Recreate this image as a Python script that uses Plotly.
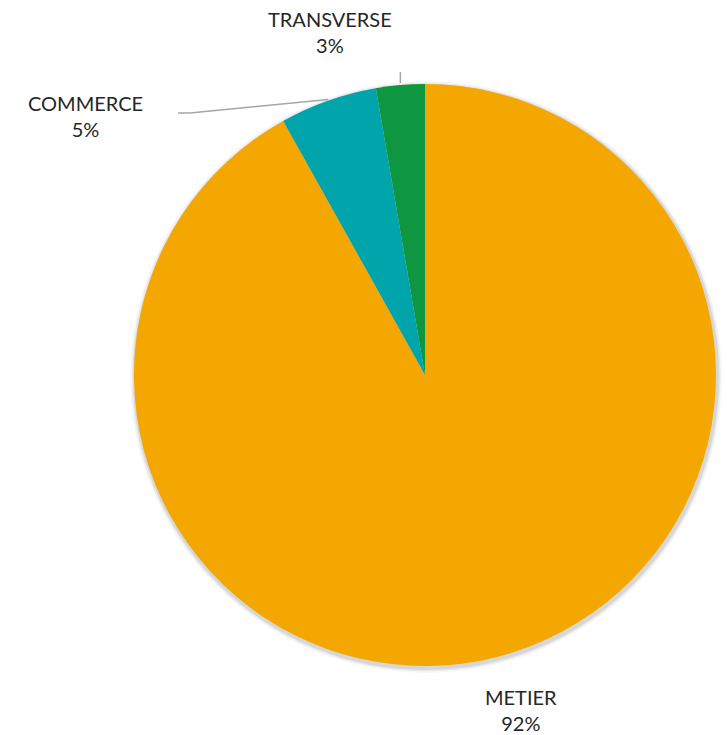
import math
import plotly.graph_objects as go

labels = ["METIER", "COMMERCE", "TRANSVERSE"]
values = [91.9, 5.4, 2.7]
colors = ["#F4A700", "#00A5AC", "#0E9640"]

W, H = 727, 735
cx, cy, r = 425, 375, 291  # pie centre / radius in px

def px_to_paper(x, y):
    return x / W, 1 - y / H

fig = go.Figure()

# soft shadow layers
for i, (extra, alpha) in enumerate([(5, 0.03), (3.5, 0.05), (2, 0.08)]):
    rr = r + extra
    fig.add_trace(go.Pie(
        values=[1], labels=["s"], sort=False, showlegend=False,
        marker=dict(colors=[f"rgba(0,0,0,{alpha})"], line=dict(width=0)),
        textinfo="none", hoverinfo="skip",
        domain=dict(x=[(cx - rr + 1) / W, (cx + rr + 1) / W],
                    y=[1 - (cy + rr + 2) / H, 1 - (cy - rr + 2) / H]),
    ))

fig.add_trace(go.Pie(
    labels=labels, values=values, sort=False, direction="clockwise",
    rotation=0, marker=dict(colors=colors, line=dict(width=0)),
    textinfo="none", showlegend=False,
    domain=dict(x=[(cx - r) / W, (cx + r) / W],
                y=[1 - (cy + r) / H, 1 - (cy - r) / H]),
))

# label positions (text centres in px)
label_pos = {"METIER": (521, 710), "COMMERCE": (85, 116), "TRANSVERSE": (330, 32)}
total = sum(values)
cum = 0
shapes = []
for lab, v in zip(labels, values):
    pct = round(100 * v / total)
    x, y = label_pos[lab]
    px_, py_ = px_to_paper(x, y)
    fig.add_annotation(x=px_, y=py_, xref="paper", yref="paper",
                       text=f"{lab}<br>{pct}%", showarrow=False,
                       font=dict(family="Lato", size=20, color="#262626"),
                       xanchor="center", yanchor="middle", align="center")
    # slice mid-angle (clockwise from top)
    mid = 2 * math.pi * (cum + v / 2) / total
    cum += v
    ex = cx + r * math.sin(mid)
    ey = cy - r * math.cos(mid)
    if lab == "TRANSVERSE":
        pts = [(ex, ey - 2), (ex, 72)]
    elif lab == "COMMERCE":
        pts = [(ex, ey - 1), (190, 113), (178, 113)]
    else:
        pts = []
    for (x0, y0), (x1, y1) in zip(pts[:-1], pts[1:]):
        a0 = px_to_paper(x0, y0)
        a1 = px_to_paper(x1, y1)
        shapes.append(dict(type="line", xref="paper", yref="paper",
                           x0=a0[0], y0=a0[1], x1=a1[0], y1=a1[1],
                           line=dict(color="#A6A6A6", width=1.5)))

fig.update_layout(width=W, height=H, margin=dict(l=0, r=0, t=0, b=0),
                  paper_bgcolor="white", plot_bgcolor="white", shapes=shapes)

fig.write_html("out.html", config={"displayModeBar": False},
               post_script="document.body.style.margin='0';document.body.style.overflow='hidden';")
